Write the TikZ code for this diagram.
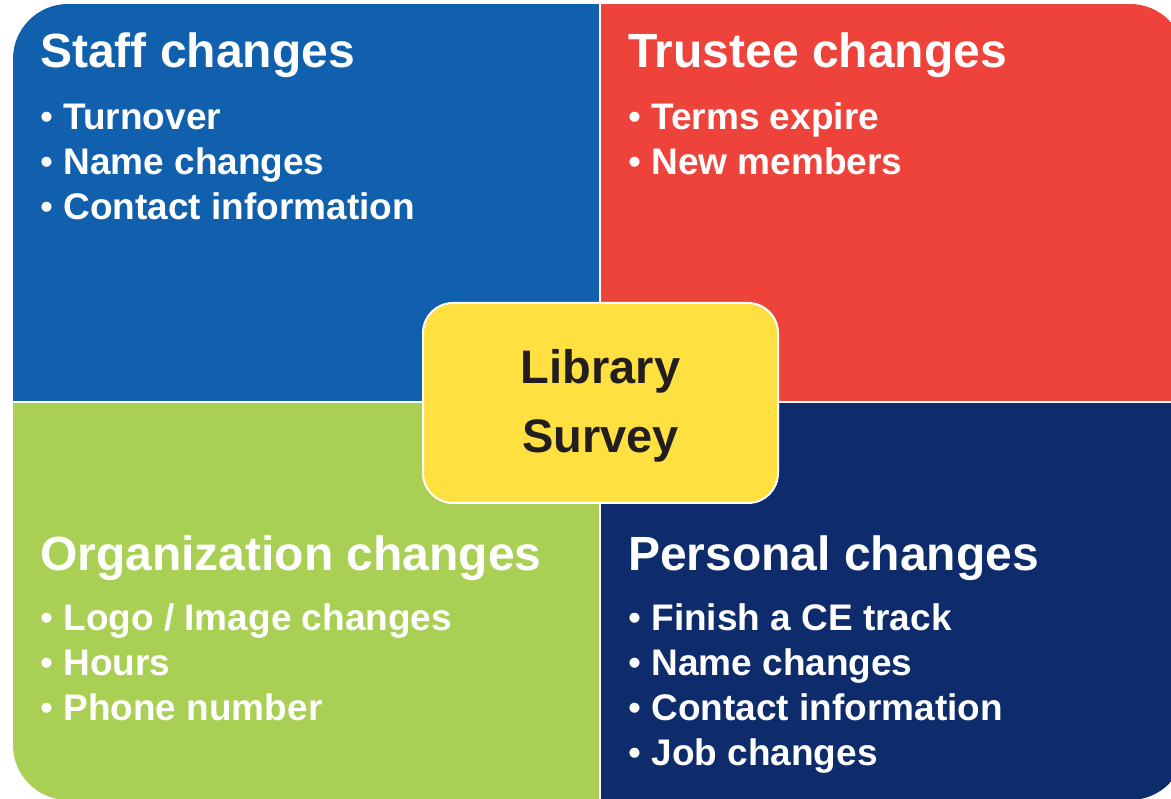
\documentclass[tikz,border=0pt]{standalone}
\usepackage{fontspec}
\setmainfont{Liberation Sans}
\usepackage{tikz}
\usetikzlibrary{positioning}
\definecolor{staffblue}{HTML}{1160AE}
\definecolor{trusteered}{HTML}{EE433A}
\definecolor{orggreen}{HTML}{A9CF54}
\definecolor{personalnavy}{HTML}{0E2B6C}
\definecolor{hubyellow}{HTML}{FEE040}
\definecolor{hubtext}{HTML}{221E1F}
\newcommand{\blt}{{\mdseries •}\ }
\newcommand{\lowered}[1]{\raisebox{-3pt}[\height][\depth]{#1}}

\begin{document}
\begin{tikzpicture}[
    x=1pt, y=-1pt,
    heading/.style={anchor=base west, inner sep=0pt, text=white, font=\fontsize{48}{56}\selectfont\bfseries},
    entry/.style={anchor=base west, inner sep=0pt, text=white, font=\fontsize{37}{44}\selectfont\bfseries},
    hub/.style={rectangle, rounded corners=30pt, draw=white, line width=2pt, fill=hubyellow, minimum width=355pt, minimum height=200pt, align=center, text=hubtext, font=\fontsize{47}{69}\selectfont\bfseries}
]
\useasboundingbox (0,0) rectangle (1171,799);

% Quadrants
\begin{scope}
\clip[rounded corners=55pt] (13,4) rectangle (1185,800);
\fill[staffblue] (13,4) rectangle (600,402);
\fill[trusteered] (600,4) rectangle (1185,402);
\fill[orggreen] (13,402) rectangle (600,800);
\fill[personalnavy] (600,402) rectangle (1185,800);
\draw[white, line width=2.5pt] (600,4) -- (600,800);
\draw[white, line width=2.5pt] (13,402) -- (1185,402);
\end{scope}

% Staff changes
\node[heading] (staff) at (40,68) {Staff changes};
\foreach \txt [count=\i] in {Turnover, Name changes, Contact information}
    \node[entry] (staff\i) at (40,85+45*\i) {\blt\txt};

% Trustee changes
\node[heading] (trustee) at (628,68) {Trustee changes};
\foreach \txt [count=\i] in {Terms expire, New members}
    \node[entry] (trustee\i) at (628,85+45*\i) {\blt\txt};

% Organization changes
\node[heading] (org) at (40,570) {Organization changes};
\foreach \txt [count=\i] in {Logo / Image changes, Hours, Phone number}
    \node[entry] (org\i) at (40,585+45*\i) {\blt\txt};

% Personal changes
\node[heading] (personal) at (628,570) {Personal changes};
\foreach \txt [count=\i] in {Finish a CE track, Name changes, Contact information, Job changes}
    \node[entry] (personal\i) at (628,585+45*\i) {\blt\txt};

% Centre
\node[hub] (survey) at (600.5,403) {\lowered{Library}\\\lowered{Survey}};

\end{tikzpicture}
\end{document}
